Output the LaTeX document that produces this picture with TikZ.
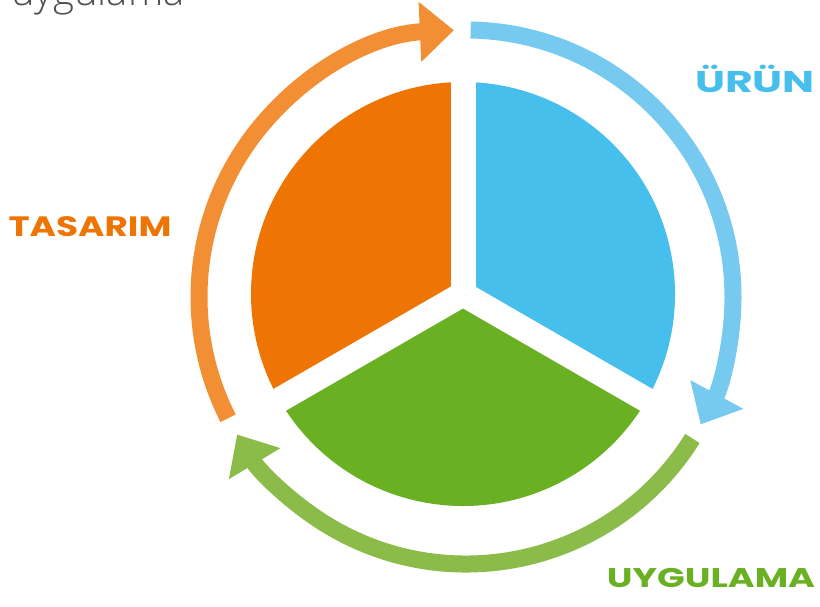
\documentclass[tikz,border=0pt]{standalone}
\usepackage{fontspec}
\setmainfont{Poppins}
\newfontfamily\thinfont{Open Sans Light}
\usetikzlibrary{arrows.meta}

\definecolor{tasarimsec}{RGB}{238,116,3}
\definecolor{tasarimarr}{RGB}{242,142,52}
\definecolor{urunsec}{RGB}{70,191,236}
\definecolor{urunarr}{RGB}{118,201,239}
\definecolor{uygsec}{RGB}{106,176,35}
\definecolor{uygarr}{RGB}{139,188,74}
\definecolor{toptext}{RGB}{80,80,80}

\tikzset{
  cyclearr/.style={line width=17pt, -{Triangle[width=58pt, length=34pt]}},
  gapline/.style={white, line width=25pt, line cap=round},
  phase/.style={font=\bfseries\fontsize{#1}{#1}\selectfont, anchor=base, transform shape}
}

\begin{document}
\begin{tikzpicture}[x=1pt, y=1pt]
  \clip (0,0) rectangle (820,607);
  \useasboundingbox (0,0) rectangle (820,607);
  \coordinate (pie) at (463,313);
  \coordinate (ring) at (466,310);
  % Draw the sectors
  \fill[tasarimsec] (pie) -- ([shift={(90:212)}]pie) arc[start angle=90, end angle=210, radius=212] -- cycle;
  \fill[uygsec] (pie) -- ([shift={(210:212)}]pie) arc[start angle=210, end angle=330, radius=212] -- cycle;
  \fill[urunsec] (pie) -- ([shift={(-30:212)}]pie) arc[start angle=-30, end angle=90, radius=212] -- cycle;
  \draw[gapline] (pie) -- ++(90:230);
  \draw[gapline] (pie) -- ++(210:230);
  \draw[gapline] (pie) -- ++(330:230);
  % Draw the cycle arrows
  \draw[cyclearr, tasarimarr] ([shift={(207:267)}]ring) arc[start angle=207, end angle=92.6, radius=267];
  \draw[cyclearr, urunarr] ([shift={(89:267)}]ring) arc[start angle=89, end angle=-28.5, radius=267];
  \draw[cyclearr, uygarr] ([shift={(-32:267)}]ring) arc[start angle=-32, end angle=-149, radius=267];
  % Labels
  \node[phase=30, xscale=1.42, text=urunsec] (urun) at (755,514) {ÜRÜN};
  \node[phase=28, xscale=1.28, text=tasarimsec] (tasarim) at (90,370) {TASARIM};
  \node[phase=27, xscale=1.35, text=uygsec] (uygulama) at (711,19) {UYGULAMA};
  \node[anchor=base, text=toptext, font=\thinfont\fontsize{40}{40}\selectfont] (title) at (98,601) {uygulama};
\end{tikzpicture}
\end{document}
